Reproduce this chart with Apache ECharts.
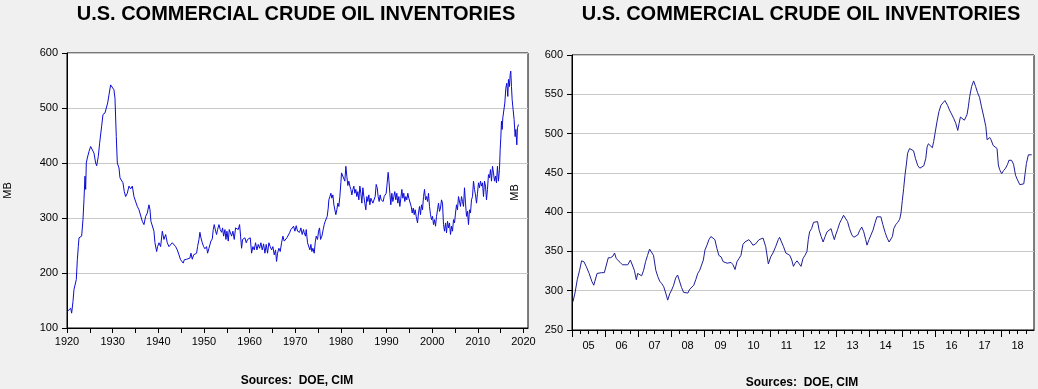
<!DOCTYPE html>
<html>
<head>
<meta charset="utf-8">
<script src="https://cdn.jsdelivr.net/npm/echarts@6/dist/echarts.min.js"></script>
<style>
html,body{margin:0;padding:0;background:#f0f0f0;}
#c{width:1038px;height:389px;}
</style>
</head>
<body>
<div id="c"></div>
<script>
// ---- Data ----
const titleText = 'U.S. COMMERCIAL CRUDE OIL INVENTORIES';
const sourceText = 'Sources:  DOE, CIM';
const unitName = 'MB';

// Left chart: long history, year (decimal) and million barrels
const histYears = [
1920.07,1920.44,1920.80,1921.02,1921.31,1921.53,1921.75,1922.04,1922.26,1922.48,1922.63,1922.99,1923.21,1923.50,1923.72,1923.94,1924.09,1924.23,1924.45,1924.82,
1925.18,1925.55,1925.91,1926.28,1926.50,1926.86,1927.15,1927.59,1927.88,1928.32,1928.69,1928.91,1929.20,1929.56,1929.93,1930.29,1930.51,1930.80,1931.02,1931.39,
1931.61,1931.97,1932.26,1932.55,1932.85,1933.21,1933.58,1933.94,1934.31,1934.67,1935.04,1935.40,1935.77,1936.13,1936.50,1936.86,1937.23,1937.59,1937.96,1938.18,
1938.39,1938.69,1939.05,1939.27,1939.64,1939.85,1940.15,1940.51,1940.88,1941.24,1941.61,1941.97,1942.34,1943.07,1943.80,1944.16,1944.53,1944.89,1945.26,
1945.47,1945.69,1945.99,1946.20,1946.57,1946.93,1947.15,1947.45,1947.74,1948.03,1948.39,1948.61,1948.91,1949.12,1949.34,1949.64,1949.93,1950.22,1950.58,1950.80,
1951.10,1951.31,1951.53,1951.83,1952.04,1952.26,1952.56,1952.77,1952.99,1953.29,1953.58,1953.87,1954.09,1954.31,1954.60,1954.82,1955.04,1955.33,1955.55,1955.77,
1956.06,1956.35,1956.64,1956.93,1957.23,1957.52,1957.81,1958.03,1958.25,1958.47,1958.76,1958.98,1959.27,1959.56,1959.85,1960.15,1960.44,1960.73,1961.02,1961.31,
1961.61,1961.90,1962.19,1962.48,1962.77,1963.07,1963.36,1963.65,1963.94,1964.23,1964.53,1964.82,1965.11,1965.40,1965.69,1965.91,1966.13,1966.42,1966.72,1967.01,
1967.30,1967.59,1967.88,1968.18,1968.47,1968.76,1969.05,1969.34,1969.64,1969.93,1970.22,1970.51,
1970.66,1970.95,1971.24,1971.53,1971.82,1971.97,1972.26,1972.41,1972.70,1972.99,1973.21,1973.43,1973.65,1973.87,1974.16,1974.38,1974.60,1974.89,1975.11,1975.33,
1975.55,1975.84,1976.13,1976.35,1976.57,1976.79,1977.01,1977.23,1977.37,1977.59,1977.81,1978.03,1978.25,1978.47,1978.69,1978.90,1979.12,1979.34,1979.56,1979.78,
1980.00,1980.15,1980.36,1980.58,1980.87,1981.09,1981.31,1981.53,1981.75,1981.97,1982.19,1982.41,1982.63,1982.85,1983.06,1983.28,1983.50,1983.72,1983.94,1984.16,
1984.38,1984.60,1984.82,1985.04,1985.25,1985.47,1985.69,1985.91,1986.13,1986.35,1986.57,1986.79,1987.01,1987.30,1987.52,1987.74,1987.96,1988.17,1988.39,1988.61,
1988.83,1989.05,1989.27,1989.49,1989.71,1989.93,1990.15,1990.36,1990.51,1990.73,1990.95,1991.17,1991.39,1991.61,1991.82,1992.04,1992.26,1992.48,1992.70,1992.92,
1993.14,1993.36,1993.58,1993.79,1994.01,1994.23,1994.45,1994.67,1994.89,1995.11,
1995.41,1995.63,1995.85,1996.07,1996.28,1996.50,1996.80,1997.01,1997.23,1997.45,1997.67,1997.89,1998.11,1998.33,1998.55,1998.77,1998.99,1999.20,1999.42,1999.64,
1999.86,2000.08,2000.30,2000.52,2000.74,2000.96,2001.18,2001.39,2001.61,2001.83,2002.05,2002.27,2002.49,2002.71,2002.93,2003.15,2003.37,2003.58,2003.80,2004.02,
2004.24,2004.46,2004.68,2004.90,2005.12,2005.34,2005.55,2005.77,2005.99,2006.21,2006.43,2006.65,2006.87,2007.09,2007.31,2007.53,2007.75,2007.96,2008.18,2008.40,
2008.62,2008.84,2009.06,2009.28,2009.50,2009.72,2009.93,2010.15,2010.37,2010.59,2010.81,2011.03,2011.25,2011.47,2011.69,2011.91,2012.12,2012.34,2012.56,2012.78,
2013.00,2013.22,2013.44,2013.66,2013.88,2014.09,2014.31,2014.53,2014.75,2014.90,2015.04,2015.19,2015.34,2015.48,2015.70,2015.92,2016.14,2016.36,2016.58,2016.72,
2016.94,2017.09,2017.23,2017.38,2017.53,2017.74,2017.96,2018.18,2018.33,2018.55,2018.69,2018.91
];
const histMb = [
130,127,136,127,148,170,173,188,224,248,264,261,267,297,333,376,352,400,409,421,
430,433,418,400,395,412,436,467,488,491,491,509,524,542,539,533,518,448,400,391,
373,370,364,348,339,345,358,353,358,339,336,321,315,312,294,288,303,309,324,315,
294,291,276,255,239,248,255,248,276,261,270,255,248,255,248,242,233,224,227,
218,224,221,225,223,227,236,225,233,232,236,248,261,274,264,255,248,244,248,236,
245,248,258,262,279,288,276,270,279,288,279,274,282,267,279,261,276,258,279,282,
267,276,261,282,285,279,288,267,245,261,258,264,255,261,258,264,236,248,242,255,
242,252,245,255,242,253,236,252,236,255,248,242,248,233,242,221,236,245,239,255,
267,258,255,264,267,273,279,276,285,276,286,276,
279,274,282,270,279,273,267,279,255,258,242,252,239,245,236,255,267,261,276,282,
261,267,279,288,294,297,303,318,333,339,345,336,342,324,321,306,315,327,321,339,
364,382,379,385,367,394,376,359,367,358,352,342,352,358,345,352,339,348,333,358,
345,327,355,339,327,315,339,330,342,324,336,333,327,330,339,361,355,339,330,342,
333,336,330,339,336,345,364,383,370,345,324,345,330,339,348,333,345,327,339,321,
336,352,336,345,330,339,333,345,336,339,
321,309,318,306,315,303,291,309,321,306,324,315,339,352,333,339,330,345,321,306,
297,303,288,297,285,303,315,327,312,318,333,327,288,276,291,273,294,282,291,270,
285,276,297,291,309,324,315,339,342,321,339,330,321,355,327,303,312,288,315,309,
333,339,367,352,342,327,345,364,355,367,358,364,339,367,358,333,352,379,373,388,
367,394,382,367,376,364,394,367,388,424,445,476,461,482,485,509,536,545,521,552,
539,561,567,539,515,497,479,448,461,433,464,470
];
const histTickYears = [1920,1925,1930,1935,1940,1945,1950,1955,1960,1965,1970,1975,1980,1985,1990,1995,2000,2005,2010,2015,2020];
const histLabelYears = [1920,1930,1940,1950,1960,1970,1980,1990,2000,2010,2020];

// Right chart: 2005-2018, year (decimal) and million barrels
const recentYears = [
2005.03,2005.09,2005.16,2005.23,2005.29,2005.36,2005.43,2005.52,2005.60,2005.66,2005.70,2005.76,2005.82,2005.90,2005.98,2006.04,2006.10,2006.17,2006.24,2006.29,
2006.34,2006.40,2006.46,2006.53,2006.61,2006.69,2006.77,2006.83,2006.89,2006.95,2006.99,2007.05,2007.11,2007.17,2007.23,2007.29,2007.35,2007.41,2007.47,2007.54,
2007.60,2007.66,2007.72,2007.78,2007.84,2007.90,2007.96,2008.02,2008.08,2008.14,2008.20,2008.26,2008.32,2008.38,2008.44,2008.51,2008.57,2008.63,2008.69,2008.75,
2008.81,2008.87,2008.93,2008.98,2009.03,2009.09,2009.15,2009.21,2009.27,2009.33,2009.39,2009.45,2009.52,2009.58,2009.64,2009.70,2009.76,2009.82,2009.88,2009.94,
2010.00,2010.06,2010.12,2010.18,2010.24,2010.30,2010.36,2010.42,2010.48,2010.55,2010.61,2010.67,2010.79,2010.87,2010.95,2011.02,2011.09,2011.17,2011.25,
2011.29,2011.35,2011.41,2011.48,2011.54,2011.60,2011.66,2011.71,2011.76,2011.82,2011.88,2011.94,2012.00,2012.06,2012.12,2012.16,2012.20,2012.26,2012.32,2012.38,
2012.44,2012.49,2012.55,2012.61,2012.67,2012.73,2012.79,2012.85,2012.89,2012.95,2012.99,2013.05,2013.11,2013.17,2013.23,2013.29,2013.35,2013.41,2013.48,2013.54,
2013.60,2013.66,2013.72,2013.78,2013.84,2013.90,2013.94,2014.00,2014.06,2014.12,2014.18,2014.24,2014.30,2014.36,2014.42,2014.49,2014.55,2014.61,2014.67,2014.71,
2014.75,2014.81,2014.87,2014.93,2014.97,2015.01,2015.05,2015.09,2015.13,2015.17,2015.23,2015.29,2015.35,2015.41,2015.48,2015.54,2015.60,2015.66,2015.72,2015.76,
2015.80,2015.86,2015.92,2015.96,2016.00,2016.06,2016.12,2016.18,2016.24,2016.30,2016.34,2016.38,2016.44,2016.50,2016.57,2016.63,2016.69,2016.73,2016.77,2016.83,
2016.89,2016.93,2016.97,2017.01,2017.05,2017.11,2017.17,2017.23,2017.29,2017.35,2017.41,2017.48,2017.54,2017.58,2017.62,2017.66,2017.70,2017.76,2017.82,2017.88,
2017.92,2017.96,2018.02,2018.08,2018.14,2018.20,2018.24,2018.32,2018.38,2018.44,2018.50,2018.57,2018.63,2018.69,2018.73,2018.77,2018.83,2018.89,2018.93
];
const recentMb = [
286,297,314,326,338,337,331,322,312,307,306,322,322,323,323,323,342,342,344,348,
341,339,336,333,333,333,339,337,326,314,322,324,319,326,337,345,353,354,345,326,
318,312,309,305,297,288,296,301,307,316,320,318,304,298,296,297,302,303,307,314,
322,326,326,339,352,358,365,369,371,365,354,345,343,337,336,335,334,336,333,327,
337,341,345,359,362,362,365,362,358,359,362,365,367,356,334,343,348,356,365,
368,367,356,348,347,345,339,331,335,338,337,331,341,345,350,365,375,379,387,388,
388,377,369,362,369,375,377,379,373,365,371,378,386,391,396,395,388,379,371,368,
367,371,377,381,375,365,358,365,371,377,386,394,396,394,384,374,367,362,362,369,
379,384,387,391,399,415,430,447,460,475,481,482,478,468,459,456,457,459,468,483,
487,487,482,490,500,515,528,536,539,542,543,536,530,525,519,513,504,513,521,521,
517,515,524,534,547,560,567,560,552,546,534,521,509,492,492,495,492,485,484,481,
460,454,449,453,456,461,466,466,461,447,441,435,434,436,449,462,473,474,473
];
const recentYearBounds = [2005,2006,2007,2008,2009,2010,2011,2012,2013,2014,2015,2016,2017,2018];
const recentYearLabels = ['05','06','07','08','09','10','11','12','13','14','15','16','17','18'];

// ---- Build options ----
const tickFont = { fontFamily: "'Liberation Sans Narrow','Liberation Sans',Arial,sans-serif", fontSize: 11, color: '#000' };
const histData = histYears.map((y, i) => [y, histMb[i]]);
const recentData = recentYears.map((y, i) => [y, recentMb[i]]);
const quarterTicks = [];
recentYearBounds.forEach(y => { quarterTicks.push(y + 0.25, y + 0.5, y + 0.75); });
const midYears = recentYearBounds.map(y => y + 0.5);

const chart = echarts.init(document.getElementById('c'), null, { renderer: 'canvas' });
const gridBase = { show: true, backgroundColor: '#ffffff', borderColor: '#000000', borderWidth: 1, containLabel: false };
const splitLine = { show: true, lineStyle: { color: '#c8c8c8', width: 1 } };
const titleFont = "bold 20px 'Liberation Sans', Arial, sans-serif";
const srcFont = "bold 12px 'Liberation Sans', Arial, sans-serif";

chart.setOption({
  animation: false,
  backgroundColor: '#f0f0f0',
  grid: [
    Object.assign({ left: 67, top: 53, width: 461, height: 275 }, gridBase),
    Object.assign({ left: 572, top: 55, width: 462, height: 275 }, gridBase),
    { left: 572, top: 55, width: 462, height: 275, show: false }
  ],
  xAxis: [
    { type: 'value', gridIndex: 0, min: 1920, max: 2021, position: 'bottom',
      splitLine: { show: false },
      axisLine: { show: true, lineStyle: { color: '#000' } },
      axisTick: { show: true, length: 5, inside: false, customValues: histTickYears, lineStyle: { color: '#000' } },
      axisLabel: Object.assign({ margin: 8, customValues: histLabelYears, formatter: v => String(Math.round(v)) }, tickFont) },
    { type: 'value', gridIndex: 1, min: 2005, max: 2019, position: 'bottom',
      splitLine: { show: false },
      axisLine: { show: true, lineStyle: { color: '#000' } },
      axisTick: { show: true, length: 7, customValues: recentYearBounds, lineStyle: { color: '#000' } },
      axisLabel: { show: false } },
    { type: 'value', gridIndex: 2, min: 2005, max: 2019, position: 'bottom',
      splitLine: { show: false },
      axisLine: { show: false },
      axisTick: { show: true, length: 4, customValues: quarterTicks, lineStyle: { color: '#000' } },
      axisLabel: Object.assign({ margin: 10, customValues: midYears,
        formatter: v => { const i = midYears.findIndex(m => Math.abs(m - v) < 0.01); return i >= 0 ? recentYearLabels[i] : ''; } }, tickFont) }
  ],
  yAxis: [
    { type: 'value', gridIndex: 0, min: 100, max: 600, interval: 100,
      name: unitName, nameLocation: 'middle', nameGap: 54, nameRotate: 90,
      nameTextStyle: { fontFamily: "'Liberation Sans',Arial,sans-serif", fontSize: 11, color: '#000' },
      splitLine: splitLine,
      axisLine: { show: true, lineStyle: { color: '#000' } },
      axisTick: { show: true, length: 5, lineStyle: { color: '#000' } },
      axisLabel: Object.assign({ margin: 9 }, tickFont) },
    { type: 'value', gridIndex: 1, min: 250, max: 600, interval: 50,
      name: unitName, nameLocation: 'middle', nameGap: 52, nameRotate: 90,
      nameTextStyle: { fontFamily: "'Liberation Sans',Arial,sans-serif", fontSize: 11, color: '#000' },
      splitLine: splitLine,
      axisLine: { show: true, lineStyle: { color: '#000' } },
      axisTick: { show: true, length: 5, lineStyle: { color: '#000' } },
      axisLabel: Object.assign({ margin: 9 }, tickFont) },
    { type: 'value', gridIndex: 2, min: 250, max: 600, show: false }
  ],
  series: [
    { type: 'line', xAxisIndex: 0, yAxisIndex: 0, data: histData, showSymbol: false, symbol: 'none',
      lineStyle: { color: '#0c0cd4', width: 1 }, z: 3 },
    { type: 'line', xAxisIndex: 1, yAxisIndex: 1, data: recentData, showSymbol: false, symbol: 'none',
      lineStyle: { color: '#1e1e98', width: 1 }, z: 3 }
  ],
  graphic: [
    { type: 'text', x: 296, y: 4, style: { text: titleText, textAlign: 'center', textVerticalAlign: 'top', font: titleFont, fill: '#000' } },
    { type: 'text', x: 801, y: 4, style: { text: titleText, textAlign: 'center', textVerticalAlign: 'top', font: titleFont, fill: '#000' } },
    { type: 'text', x: 297, y: 375, style: { text: sourceText, textAlign: 'center', textVerticalAlign: 'top', font: srcFont, fill: '#000' } },
    { type: 'text', x: 802, y: 377, style: { text: sourceText, textAlign: 'center', textVerticalAlign: 'top', font: srcFont, fill: '#000' } }
  ]
});
</script>
</body>
</html>
